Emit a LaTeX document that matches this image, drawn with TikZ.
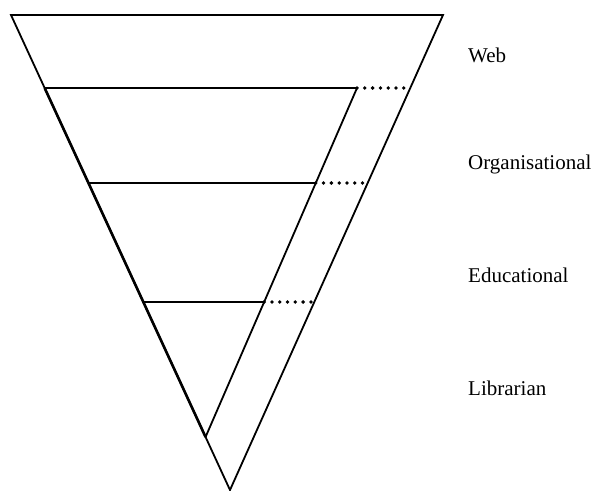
\documentclass[tikz,border=0pt]{standalone}
\usepackage{fontspec}
\setmainfont{Liberation Serif}
\usetikzlibrary{calc}
\begin{document}
\begin{tikzpicture}[x=1pt,y=-1pt,
  edge/.style={line width=1.8pt, line join=miter},
  dots/.style={line width=3.8pt, line cap=round, dash pattern=on 0pt off 7.8pt},
  lbl/.style={anchor=west, inner sep=0pt, font=\fontsize{21}{24}\selectfont}]
\useasboundingbox (0,0) rectangle (594,490);
% outer triangle
\coordinate (TL) at (11,15);
\coordinate (TR) at (443,15);
\coordinate (AP) at (230,490);
\draw[edge] (TL) -- (TR) -- (AP) -- cycle;
% points on the left edge
\coordinate (L1) at ($(TL)!73/475!(AP)$);
\coordinate (L2) at ($(TL)!168/475!(AP)$);
\coordinate (L3) at ($(TL)!287/475!(AP)$);
\coordinate (B)  at ($(TL)!422/475!(AP)$);
% points on the right edge
\coordinate (R1) at ($(TR)!73/475!(AP)$);
\coordinate (R2) at ($(TR)!168/475!(AP)$);
\coordinate (R3) at ($(TR)!287/475!(AP)$);
% inner line
\coordinate (I1) at (357,88);
\coordinate (I2) at ($(I1)!95/349!(B)$);
\coordinate (I3) at ($(I1)!214/349!(B)$);
\draw[line width=2.6pt] (L1) -- (B);
\draw[edge] (L1) -- (I1) -- (B);
\draw[edge] (L2) -- (I2);
\draw[edge] (L3) -- (I3);
\draw[dots] (I1) -- (R1);
\draw[dots] (I2) -- (R2);
\draw[dots] (I3) -- (R3);
% labels
\node[lbl] (web) at (468,55) {Web};
\node[lbl] (org) at (468,164) {Organisational};
\node[lbl] (edu) at (468,275) {Educational};
\node[lbl] (lib) at (468,388) {Librarian};
\end{tikzpicture}
\end{document}
